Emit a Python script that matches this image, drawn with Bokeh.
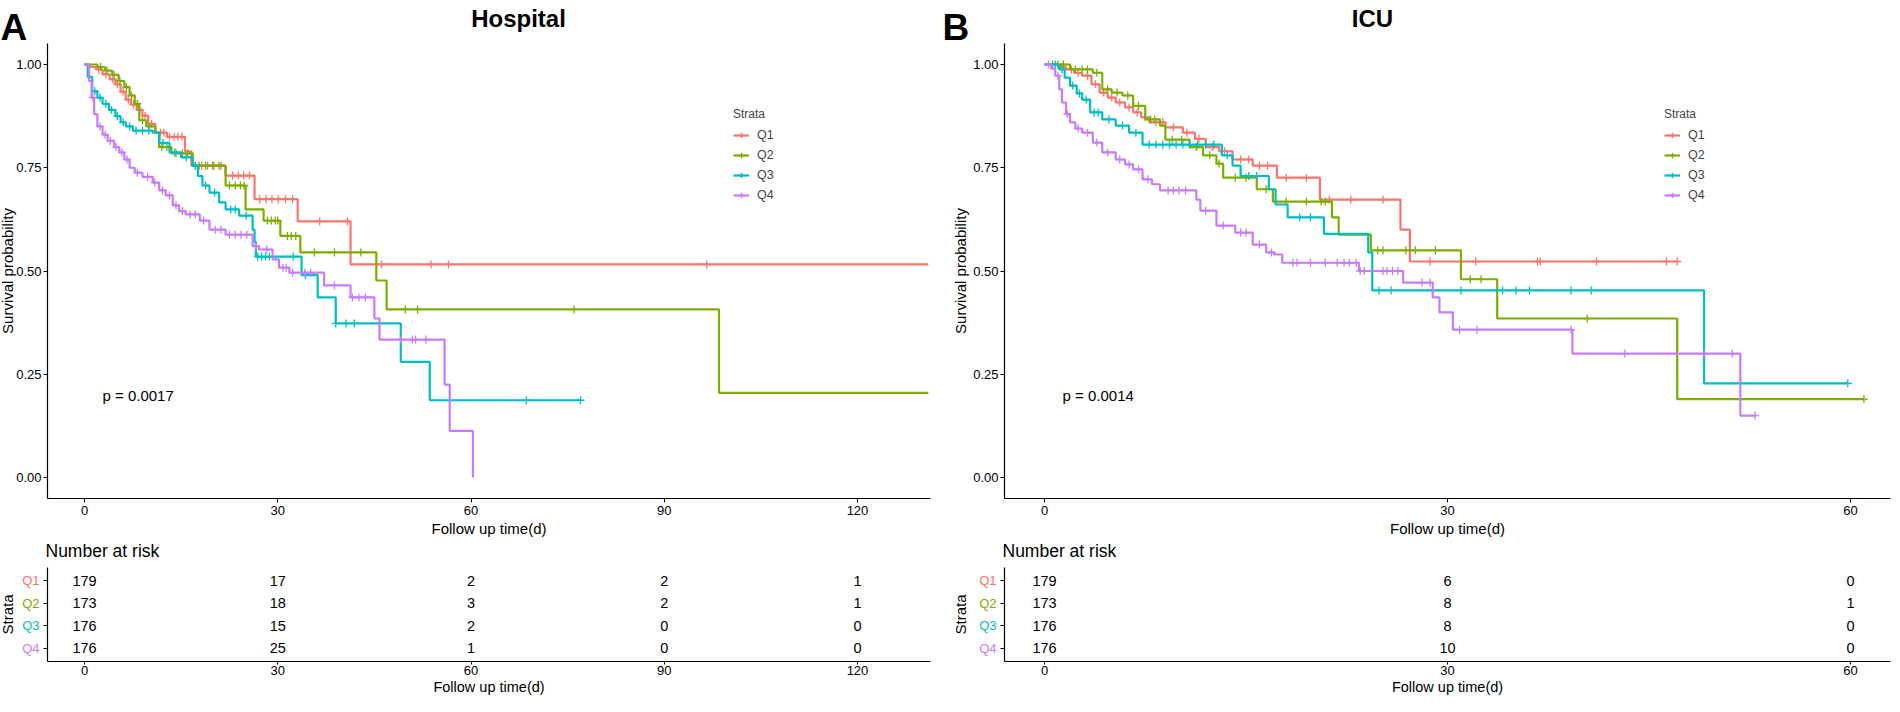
import numpy as np
from bokeh.plotting import figure
from bokeh.models import (Range1d, FixedTicker, Label, Legend, LegendItem, LinearAxis,
                          PrintfTickFormatter)
from bokeh.layouts import row
from bokeh.embed import file_html
from bokeh.resources import INLINE
from bokeh.core.properties import value

STRATA = ["Q1", "Q2", "Q3", "Q4"]
COLORS = ["#F8766D", "#7CAE00", "#00BFC4", "#C77CFF"]
FONT = "Liberation Sans"

# ---------------- Hospital (panel A) ----------------
HOSP_Q1_T = [0, 0.8, 1.8, 2.8, 3.9, 4.8, 5.6, 6.4, 7.2, 8.1, 9.0, 9.9, 11.0, 12.8, 15.6, 16.6, 21.9, 26.4, 33.1, 41.3]
HOSP_Q1_S = [1, 0.994, 0.988, 0.976, 0.964, 0.952, 0.934, 0.915, 0.903, 0.89, 0.876, 0.856, 0.835, 0.825, 0.79, 0.755, 0.731, 0.674, 0.62, 0.516]
HOSP_Q1_END = 131.0
HOSP_Q2_T = [0, 2.0, 3.2, 4.3, 5.3, 6.2, 7.0, 7.8, 8.5, 9.6, 11.0, 11.6, 13.5, 16.8, 21.9, 25.0, 27.8, 30.4, 33.5, 45.3, 46.9, 98.5]
HOSP_Q2_S = [1, 0.994, 0.985, 0.975, 0.96, 0.945, 0.925, 0.905, 0.865, 0.85, 0.835, 0.80, 0.785, 0.755, 0.707, 0.649, 0.622, 0.585, 0.545, 0.477, 0.407, 0.205]
HOSP_Q2_END = 131.0
HOSP_Q3_T = [0, 0.5, 1.2, 2.0, 2.8, 3.8, 4.8, 5.6, 6.4, 7.5, 10.6, 11.6, 13.2, 15.0, 16.8, 17.6, 18.3, 19.4, 20.9, 21.9, 24.0, 26.1, 26.4, 26.6, 33.7, 36.2, 39.0, 49.1, 53.6]
HOSP_Q3_S = [1, 0.97, 0.935, 0.92, 0.905, 0.89, 0.875, 0.86, 0.85, 0.84, 0.835, 0.81, 0.787, 0.775, 0.755, 0.73, 0.707, 0.69, 0.666, 0.649, 0.634, 0.60, 0.57, 0.535, 0.49, 0.436, 0.373, 0.28, 0.187]
HOSP_Q3_END = 77.0
HOSP_Q4_T = [0, 0.7, 1.1, 1.5, 2.0, 2.8, 3.6, 4.6, 5.4, 6.2, 7.0, 7.8, 9.0, 10.6, 11.6, 12.6, 13.7, 14.7, 15.7, 17.9, 19.4, 21.9, 26.1, 27.1, 29.2, 30.2, 31.8, 37.2, 41.3, 45.0, 45.8, 55.9, 56.7, 60.3]
HOSP_Q4_S = [1, 0.96, 0.92, 0.88, 0.85, 0.83, 0.815, 0.80, 0.787, 0.77, 0.75, 0.738, 0.728, 0.714, 0.695, 0.683, 0.659, 0.645, 0.637, 0.622, 0.60, 0.588, 0.56, 0.552, 0.528, 0.508, 0.496, 0.465, 0.436, 0.385, 0.334, 0.225, 0.113, 0.0]
HOSP_Q4_END = 60.3

HOSP_Q1_CENS = [2.2, 3.3, 4.4, 5.1, 6.0, 6.8, 7.6, 8.6, 9.4, 10.4, 11.8, 12.3, 13.2, 13.9, 14.5, 15.1, 17.2, 18.2, 19.1, 20.1, 21.2, 23.0, 23.9, 24.7, 25.6, 27.2, 28.2, 29.1, 30.1, 31.2, 32.3, 36.5, 40.8, 46.1, 53.8, 56.5, 96.6]
HOSP_Q2_CENS = [2.5, 3.5, 4.6, 5.5, 6.5, 7.3, 8.2, 9.0, 10.0, 12.0, 12.8, 14.2, 15.2, 16.0, 17.8, 18.8, 19.9, 20.9, 22.5, 23.4, 24.2, 24.8, 28.4, 29.0, 29.6, 30.0, 31.5, 32.1, 32.8, 35.7, 38.8, 42.9, 49.8, 51.7, 76.0]
HOSP_Q3_CENS = [1.6, 2.4, 3.3, 4.2, 5.1, 6.0, 7.0, 8.0, 9.0, 10.0, 12.2, 14.0, 15.8, 17.2, 18.8, 20.2, 22.7, 23.4, 25.1, 26.9, 27.5, 28.1, 28.7, 32.4, 34.3, 39.0, 40.6, 41.9, 68.6, 77.0]
HOSP_Q4_CENS = [1.3, 2.4, 3.2, 4.0, 4.9, 5.8, 6.6, 8.2, 9.8, 10.9, 12.1, 13.2, 14.2, 15.2, 16.4, 17.2, 18.5, 20.3, 21.2, 22.5, 23.4, 24.3, 25.2, 26.6, 28.3, 30.8, 31.3, 32.3, 34.2, 35.1, 38.8, 41.6, 42.6, 43.6, 49.1, 50.9, 51.4, 53.0]

HOSP_RISK_TIMES = [0, 30, 60, 90, 120]
HOSP_RISK_Q1 = [179, 17, 2, 2, 1]
HOSP_RISK_Q2 = [173, 18, 3, 2, 1]
HOSP_RISK_Q3 = [176, 15, 2, 0, 0]
HOSP_RISK_Q4 = [176, 25, 1, 0, 0]
HOSP_PVAL = "p = 0.0017"

# ---------------- ICU (panel B) ----------------
ICU_Q1_T = [0, 1.0, 1.6, 2.2, 2.8, 3.5, 4.1, 4.7, 5.3, 6.0, 6.6, 7.2, 7.8, 9.0, 10.3, 11.2, 12.0, 13.0, 14.0, 15.5, 17.3, 20.5, 26.5, 27.2]
ICU_Q1_S = [1, 0.994, 0.988, 0.98, 0.973, 0.952, 0.932, 0.92, 0.908, 0.896, 0.884, 0.872, 0.86, 0.848, 0.835, 0.82, 0.80, 0.79, 0.77, 0.755, 0.726, 0.673, 0.60, 0.523]
ICU_Q1_END = 47.1
ICU_Q2_T = [0, 1.9, 3.6, 4.3, 5.0, 5.8, 6.6, 7.5, 8.6, 9.0, 10.8, 11.8, 12.8, 13.3, 15.8, 17.0, 21.4, 21.9, 24.3, 31.0, 33.7, 47.1]
ICU_Q2_S = [1, 0.988, 0.98, 0.94, 0.932, 0.925, 0.90, 0.867, 0.852, 0.818, 0.80, 0.78, 0.76, 0.726, 0.698, 0.668, 0.63, 0.588, 0.55, 0.48, 0.385, 0.19]
ICU_Q2_END = 61.0
ICU_Q3_T = [0, 1.1, 1.5, 1.9, 2.4, 2.8, 3.4, 4.3, 5.3, 6.3, 7.3, 13.2, 14.0, 14.6, 16.7, 17.2, 18.1, 20.8, 24.1, 24.4, 49.1]
ICU_Q3_S = [1, 0.988, 0.968, 0.949, 0.93, 0.915, 0.884, 0.867, 0.852, 0.835, 0.806, 0.78, 0.755, 0.73, 0.698, 0.661, 0.63, 0.59, 0.545, 0.453, 0.228]
ICU_Q3_END = 59.8
ICU_Q4_T = [0, 0.5, 0.8, 1.1, 1.3, 1.6, 1.9, 2.3, 2.8, 3.6, 4.3, 5.3, 6.0, 6.6, 7.3, 8.0, 8.6, 11.3, 11.6, 12.8, 14.2, 15.5, 16.5, 17.1, 17.7, 23.4, 26.7, 28.9, 29.4, 30.4, 39.3, 51.8]
ICU_Q4_S = [1, 0.99, 0.973, 0.94, 0.908, 0.88, 0.86, 0.845, 0.835, 0.811, 0.787, 0.77, 0.758, 0.746, 0.722, 0.71, 0.695, 0.673, 0.646, 0.61, 0.593, 0.564, 0.545, 0.54, 0.52, 0.50, 0.472, 0.436, 0.40, 0.358, 0.30, 0.15]
ICU_Q4_END = 52.9

ICU_Q1_CENS = [1.3, 2.0, 2.5, 3.2, 3.8, 4.4, 5.0, 5.6, 6.3, 6.9, 7.5, 8.3, 8.8, 9.6, 10.6, 11.5, 12.5, 13.4, 14.6, 15.2, 16.0, 16.6, 18.0, 19.5, 21.2, 22.8, 25.2, 28.7, 32.1, 36.7, 36.9, 41.1, 46.3, 47.1]
ICU_Q2_CENS = [0.6, 1.0, 1.4, 2.3, 2.8, 3.2, 3.9, 4.7, 5.4, 6.2, 7.0, 7.9, 8.2, 9.5, 10.2, 11.3, 12.3, 13.0, 14.2, 15.0, 16.5, 18.0, 19.5, 20.6, 20.9, 24.8, 25.2, 26.9, 27.6, 29.1, 31.7, 32.5, 40.4, 61.0]
ICU_Q3_CENS = [0.8, 1.3, 2.1, 2.6, 3.1, 3.7, 4.0, 4.8, 5.8, 6.8, 7.8, 8.3, 8.8, 9.3, 9.8, 10.3, 10.8, 11.4, 12.0, 12.6, 13.6, 15.2, 15.8, 19.0, 19.8, 24.9, 25.8, 31.0, 34.1, 35.1, 36.1, 39.2, 40.7, 59.8]
ICU_Q4_CENS = [0.3, 1.0, 1.7, 2.5, 3.2, 3.9, 4.7, 5.6, 6.3, 7.0, 7.7, 9.2, 9.6, 10.0, 10.5, 12.0, 13.3, 14.6, 15.0, 16.0, 16.9, 18.5, 18.8, 19.8, 20.9, 21.8, 22.3, 22.7, 23.2, 23.5, 23.8, 25.2, 25.5, 25.9, 26.3, 28.1, 28.7, 30.9, 32.2, 39.2, 43.2, 49.1, 51.2, 52.9]

ICU_RISK_TIMES = [0, 30, 60]
ICU_RISK_Q1 = [179, 6, 0]
ICU_RISK_Q2 = [173, 8, 1]
ICU_RISK_Q3 = [176, 8, 0]
ICU_RISK_Q4 = [176, 10, 0]
ICU_PVAL = "p = 0.0014"

# ---------------- layout constants (page pixels) ----------------
H = 696             # figure height (page y 8 .. 704)
PT = 8
Y1_PX, Y0_PX = 72, 485          # page y of survival 1.0 and 0.0
SURV_PX = Y0_PX - Y1_PX
PLOT_TOP, PLOT_BOT = 51, 506
TAB_TOP, TAB_BOT = 575, 669
TAB_LO, TAB_HI = 0.4, 4.6
TAB_PX = (TAB_BOT - TAB_TOP) / (TAB_HI - TAB_LO)


def style_axis(ax, size="13px", standoff=2, tick_out=4):
    ax.axis_line_color = "black"
    ax.axis_line_width = 1.2
    ax.major_tick_line_color = "black"
    ax.major_tick_line_width = 1.1
    ax.major_tick_out = tick_out
    ax.major_tick_in = 0
    ax.minor_tick_line_color = None
    ax.major_label_text_font = FONT
    ax.major_label_text_font_size = size
    ax.major_label_text_color = "black"
    ax.major_label_standoff = standoff


def panel(letter, title, curves, censors, risk, risk_times, pval, pval_xy,
          page_left, fig_w, zero_px, px_per_day, axis_px, right_px,
          title_cx, ylab_px, legend_px, qlab_px):
    def sx(px):
        return px - page_left

    def sy(py):
        return PT + H - py

    def xd(px):
        return (px - zero_px) / px_per_day

    def yd(py):
        return (Y0_PX - py) / SURV_PX

    def td(py):
        return TAB_LO + (TAB_BOT - py) / TAB_PX

    x_lo, x_hi = xd(axis_px), xd(right_px)
    y_lo, y_hi = yd(PLOT_BOT), yd(PLOT_TOP)

    p = figure(width=fig_w, height=H,
               x_range=Range1d(xd(page_left), xd(page_left + fig_w)),
               y_range=Range1d(yd(PT + H), yd(PT)),
               x_axis_type=None, y_axis_type=None,
               output_backend="svg", toolbar_location=None,
               min_border=0, min_border_left=0, min_border_right=0,
               min_border_top=0, min_border_bottom=0)
    p.extra_y_ranges = {"tab": Range1d(td(PT + H), td(PT))}
    p.xgrid.grid_line_color = None
    p.ygrid.grid_line_color = None
    p.outline_line_color = None
    p.background_fill_color = "white"
    p.border_fill_color = "white"

    # survival plot axes
    yax = LinearAxis(fixed_location=x_lo, bounds=(y_lo, y_hi),
                     ticker=FixedTicker(ticks=[0, 0.25, 0.5, 0.75, 1.0]),
                     formatter=PrintfTickFormatter(format="%.2f"))
    style_axis(yax, standoff=2)
    p.add_layout(yax, "left")
    xax = LinearAxis(fixed_location=y_lo, bounds=(x_lo, x_hi),
                     ticker=FixedTicker(ticks=risk_times))
    style_axis(xax, standoff=3)
    p.add_layout(xax, "below")

    # risk table axes
    tyax = LinearAxis(y_range_name="tab", fixed_location=x_lo, bounds=(TAB_LO, TAB_HI),
                      ticker=FixedTicker(ticks=[1, 2, 3, 4]),
                      major_label_overrides={1: "", 2: "", 3: "", 4: ""})
    style_axis(tyax, standoff=2)
    p.add_layout(tyax, "left")
    txax = LinearAxis(y_range_name="tab", fixed_location=TAB_LO, bounds=(x_lo, x_hi),
                      ticker=FixedTicker(ticks=risk_times))
    style_axis(txax, standoff=1, tick_out=3)
    p.add_layout(txax, "below")

    # curves and censor marks
    items = []
    for name, col, (t, s, end), cens in zip(STRATA, COLORS, curves, censors):
        xs = list(t) + [end]
        ys = list(s) + [s[-1]]
        lr = p.step(xs, ys, mode="after", line_color=col, line_width=2.2)
        ta = np.array(t)
        sa = np.array(s)
        idx = np.searchsorted(ta, np.array(cens), side="right") - 1
        mr = p.scatter(cens, sa[idx], marker="cross", size=8, line_color=col, line_width=1.3)
        items.append(LegendItem(label=name, renderers=[lr, mr]))

    leg = Legend(items=items, location=(sx(legend_px[0]), sy(legend_px[1])), title="Strata",
                 title_text_font=FONT, title_text_font_size="12px", title_text_font_style="normal",
                 label_text_font=FONT, label_text_font_size="12.5px",
                 glyph_width=16, glyph_height=14, label_height=14, label_standoff=8,
                 spacing=6, padding=0, margin=0, title_standoff=7,
                 border_line_color=None, background_fill_alpha=0)
    p.add_layout(leg)

    p.text(x=[pval_xy[0]], y=[pval_xy[1]], text=[pval], text_font=value(FONT),
           text_font_size="15px", text_align="left", text_baseline="middle", text_color="black")

    def lab(text, px, py, size, angle=0.0, align="left", baseline="middle", style="normal",
            color="black"):
        p.add_layout(Label(x=sx(px), y=sy(py), x_units="screen", y_units="screen", text=text,
                           text_font=FONT, text_font_size=size, text_font_style=style,
                           text_color=color, text_align=align, text_baseline=baseline,
                           angle=angle))

    cx = (axis_px + right_px) / 2
    lab(letter, page_left, 35, "37px", baseline="alphabetic", style="bold")
    lab(title, title_cx, 26, "24px", align="center", baseline="alphabetic", style="bold")
    lab("Survival probability", ylab_px, (PLOT_TOP + PLOT_BOT) / 2, "15px", angle=np.pi / 2,
        align="center")
    lab("Follow up time(d)", cx, 536, "15px", align="center")
    lab("Number at risk", axis_px - 2, 558, "17.5px")
    lab("Strata", ylab_px, (TAB_TOP + TAB_BOT) / 2, "15px", angle=np.pi / 2, align="center")
    lab("Follow up time(d)", cx, 694, "14.5px", align="center")

    # risk table numbers
    xs, ys, txt = [], [], []
    for i, vals in enumerate(risk):
        for tt, v in zip(risk_times, vals):
            xs.append(tt)
            ys.append(4 - i)
            txt.append(str(v))
    p.text(x=xs, y=ys, text=txt, y_range_name="tab", text_font=value(FONT),
           text_font_size="14.5px", text_align="center", text_baseline="middle",
           text_color="black")
    for i, (name, col) in enumerate(zip(STRATA, COLORS)):
        p.add_layout(Label(x=sx(qlab_px), y=4 - i, x_units="screen", y_units="data",
                           y_range_name="tab", text=name, text_font=FONT,
                           text_font_size="13px", text_color=col, text_align="right",
                           text_baseline="middle"))
    return p


pA = panel("A", "Hospital",
           [(HOSP_Q1_T, HOSP_Q1_S, HOSP_Q1_END), (HOSP_Q2_T, HOSP_Q2_S, HOSP_Q2_END),
            (HOSP_Q3_T, HOSP_Q3_S, HOSP_Q3_END), (HOSP_Q4_T, HOSP_Q4_S, HOSP_Q4_END)],
           [HOSP_Q1_CENS, HOSP_Q2_CENS, HOSP_Q3_CENS, HOSP_Q4_CENS],
           [HOSP_RISK_Q1, HOSP_RISK_Q2, HOSP_RISK_Q3, HOSP_RISK_Q4], HOSP_RISK_TIMES,
           HOSP_PVAL, (2.79, 0.1985),
           page_left=8, fig_w=942, zero_px=92, px_per_day=(865 - 92) / 120, axis_px=55,
           right_px=938, title_cx=526, ylab_px=15, legend_px=(741, 210), qlab_px=47)
pB = panel("B", "ICU",
           [(ICU_Q1_T, ICU_Q1_S, ICU_Q1_END), (ICU_Q2_T, ICU_Q2_S, ICU_Q2_END),
            (ICU_Q3_T, ICU_Q3_S, ICU_Q3_END), (ICU_Q4_T, ICU_Q4_S, ICU_Q4_END)],
           [ICU_Q1_CENS, ICU_Q2_CENS, ICU_Q3_CENS, ICU_Q4_CENS],
           [ICU_RISK_Q1, ICU_RISK_Q2, ICU_RISK_Q3, ICU_RISK_Q4], ICU_RISK_TIMES,
           ICU_PVAL, (1.34, 0.1985),
           page_left=950, fig_w=950, zero_px=1052, px_per_day=(1858 - 1052) / 60, axis_px=1012,
           right_px=1898, title_cx=1380, ylab_px=968, legend_px=(1672, 210), qlab_px=1004)

layout = row(pA, pB)
open("out.html", "w").write(file_html(layout, INLINE))
